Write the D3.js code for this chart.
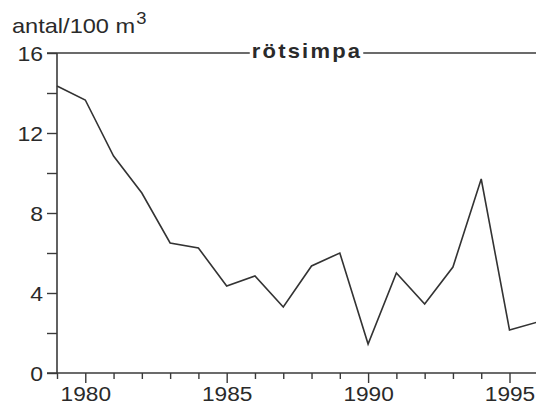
<!DOCTYPE html>
<html>
<head>
<meta charset="utf-8">
<script src="https://cdn.jsdelivr.net/npm/d3@7"></script>
<style>
  body { margin: 0; background: #fff; }
  svg { display: block; }
  text { font-family: "Liberation Sans", Arial, sans-serif; fill: #2a2a2a; }
</style>
</head>
<body>
<svg width="536" height="407"></svg>
<script>
// rötsimpa, antal/100 m3 per year
var years = [1979, 1980, 1981, 1982, 1983, 1984, 1985, 1986, 1987, 1988,
             1989, 1990, 1991, 1992, 1993, 1994, 1995, 1996];
var values = [14.35, 13.65, 10.85, 9.0, 6.5, 6.25, 4.35, 4.85, 3.3, 5.35,
              6.0, 1.45, 5.0, 3.45, 5.3, 9.7, 2.15, 2.55];
var yTicks = [0, 2, 4, 6, 8, 10, 12, 14, 16];
var yLabels = [0, 4, 8, 12, 16];
var xLabels = [1980, 1985, 1990, 1995];
var title = "rötsimpa";
var yTitle = "antal/100 m";

var svg = d3.select("svg");
var ink = "#3a3a3a";
var stretch = 1.15; // the printed type is a bit wide

var x = d3.scaleLinear().domain([1979, 1995]).range([57, 509.5]);
var y = d3.scaleLinear().domain([0, 16]).range([373, 53]);

// y axis
var yAxis = d3.axisLeft(y)
  .tickValues(yTicks)
  .tickSize(10)
  .tickPadding(4)
  .tickFormat(d => yLabels.includes(d) ? d : "");
var gy = svg.append("g").attr("transform", "translate(" + x(1979) + ",0)").call(yAxis);
gy.select(".domain").remove();
gy.append("line")
  .attr("x1", 0).attr("x2", 0)
  .attr("y1", y(16)).attr("y2", y(0))
  .attr("stroke", ink).attr("stroke-width", 1.6);
gy.selectAll(".tick line").attr("stroke", ink).attr("stroke-width", 1.4);
gy.selectAll(".tick text").attr("font-size", 20).attr("fill", "#2a2a2a")
  .attr("x", -14 / stretch)
  .attr("transform", "scale(" + stretch + ",1)")
  .attr("dy", "0.36em");

// x axis
var xAxis = d3.axisBottom(x)
  .tickValues(d3.range(1979, 1997))
  .tickSize(0)
  .tickFormat(d => xLabels.includes(d) ? d : "");
var gx = svg.append("g").attr("transform", "translate(0," + y(0) + ")").call(xAxis);
gx.select(".domain").remove();
gx.append("line")
  .attr("x1", x(1979) - 10).attr("x2", 536)
  .attr("y1", 0).attr("y2", 0)
  .attr("stroke", ink).attr("stroke-width", 1.6);
gx.selectAll(".tick line")
  .attr("y2", d => xLabels.includes(d) ? 10 : 6)
  .attr("stroke", ink).attr("stroke-width", 1.4);
gx.selectAll(".tick text").attr("font-size", 21).attr("fill", "#2a2a2a")
  .attr("transform", "scale(1.08,1)")
  .attr("y", 13).attr("dy", "0.71em");

// top frame line with title
var tt = svg.append("text")
  .attr("transform", "translate(307,58) scale(1.1,1)")
  .attr("text-anchor", "middle")
  .attr("font-size", 20)
  .attr("font-weight", "bold")
  .attr("letter-spacing", 2)
  .text(title);
var bb = tt.node().getBoundingClientRect();
svg.append("line")
  .attr("x1", x(1979) - 10).attr("x2", bb.left - 2)
  .attr("y1", y(16)).attr("y2", y(16))
  .attr("stroke", ink).attr("stroke-width", 1.6);
svg.append("line")
  .attr("x1", bb.right + 1).attr("x2", 536)
  .attr("y1", y(16)).attr("y2", y(16))
  .attr("stroke", ink).attr("stroke-width", 1.6);

// y title
var yt = svg.append("text")
  .attr("transform", "translate(12,33) scale(" + stretch + ",1)")
  .attr("font-size", 20.5);
yt.append("tspan").text(yTitle);
yt.append("tspan").attr("font-size", 16).attr("dy", -9).attr("dx", 1).text("3");

// data line
var line = d3.line()
  .x((d, i) => x(years[i]))
  .y(d => y(d));
svg.append("path")
  .datum(values)
  .attr("d", line)
  .attr("fill", "none")
  .attr("stroke", "#333")
  .attr("stroke-width", 1.6)
  .attr("stroke-linejoin", "miter");
</script>
</body>
</html>
